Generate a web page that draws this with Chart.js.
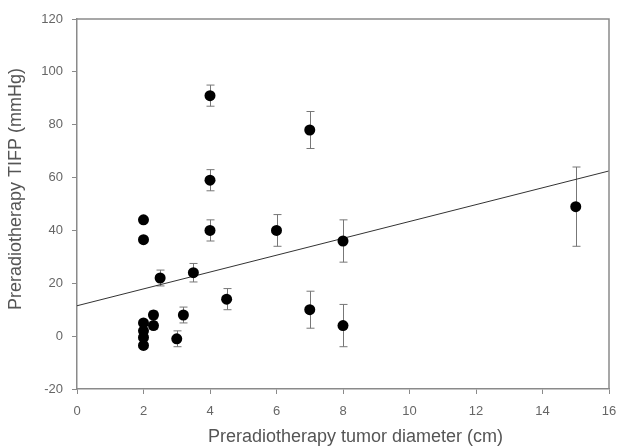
<!DOCTYPE html>
<html>
<head>
<meta charset="utf-8">
<script src="https://cdn.jsdelivr.net/npm/chart.js@4"></script>
<style>
  html, body { margin: 0; padding: 0; background: #fff; }
  #wrap { width: 617px; height: 448px; }
</style>
</head>
<body>
<div id="wrap"><canvas id="tifpChart" width="617" height="448"></canvas></div>
<script>
// tumour diameter (cm), TIFP (mmHg) and error half-widths
const diameters = [2, 2, 2, 2, 2, 2, 2.3, 2.3, 2.5, 3, 3.2, 3.5, 4, 4, 4, 4.5, 6, 7, 7, 8, 8, 15];
const tifp = [44, 36.5, 5, 2, -0.5, -3.5, 8, 4, 22, -1, 8, 24, 91, 59, 40, 14, 40, 78, 10, 36, 4, 49];
const errors = [0, 0, 0, 0, 0, 0, 1.5, 1.5, 3, 3, 3, 3.5, 4, 4, 4, 4, 6, 7, 7, 8, 8, 15];

// regression line end points
const fitX = [0, 16];
const fitY = [11.5, 62.5];

const xTicks = [0, 2, 4, 6, 8, 10, 12, 14, 16];
const yTicks = [-20, 0, 20, 40, 60, 80, 100, 120];

const axisGray = "#8a8a8a";
const labelGray = "#666";

const errorBars = {
    id: "errorBars",
    beforeDatasetsDraw(chart) {
        const ctx = chart.ctx;
        const xs = chart.scales.x, ys = chart.scales.y;
        ctx.save();
        ctx.strokeStyle = "#777";
        ctx.lineWidth = 1;
        diameters.forEach((d, i) => {
            if (!errors[i]) return;
            const px = Math.round(xs.getPixelForValue(d)) + 0.5;
            const top = ys.getPixelForValue(tifp[i] + errors[i]);
            const bot = ys.getPixelForValue(tifp[i] - errors[i]);
            ctx.beginPath();
            ctx.moveTo(px, top); ctx.lineTo(px, bot);
            ctx.moveTo(px - 4, top); ctx.lineTo(px + 4, top);
            ctx.moveTo(px - 4, bot); ctx.lineTo(px + 4, bot);
            ctx.stroke();
        });
        ctx.restore();
    }
};

const frame = {
    id: "frame",
    afterDraw(chart) {
        const a = chart.chartArea, ctx = chart.ctx;
        ctx.save();
        ctx.strokeStyle = axisGray;
        ctx.lineWidth = 1.5;
        ctx.beginPath();
        ctx.moveTo(a.left, a.top); ctx.lineTo(a.right, a.top); ctx.lineTo(a.right, a.bottom);
        ctx.stroke();
        ctx.restore();
    }
};

const ctx = document.getElementById("tifpChart").getContext("2d");
new Chart(ctx, {
    type: "scatter",
    data: {
        datasets: [{
            data: diameters.map((d, i) => ({ x: d, y: tifp[i] })),
            pointRadius: 5.5,
            pointBackgroundColor: "#000",
            pointBorderColor: "#000",
            pointBorderWidth: 0,
            showLine: false
        }, {
            type: "line",
            data: fitX.map((v, i) => ({ x: v, y: fitY[i] })),
            borderColor: "#333",
            borderWidth: 1,
            pointRadius: 0,
            fill: false
        }]
    },
    options: {
        responsive: false,
        animation: false,
        layout: { padding: { left: 0, right: 0, top: 19, bottom: 0 } },
        plugins: { legend: { display: false }, tooltip: { enabled: false } },
        scales: {
            x: {
                type: "linear",
                min: 0, max: 16,
                afterBuildTicks: s => { s.ticks = xTicks.map(v => ({ value: v })); },
                afterFit: s => { s.height = 59; s.paddingLeft = 0; s.paddingRight = 8; },
                grid: { drawOnChartArea: false, drawTicks: true, tickLength: 5, color: axisGray },
                border: { color: axisGray, width: 1.5 },
                ticks: { color: labelGray, font: { family: "Liberation Sans", size: 13 }, padding: 10 },
                // leading spaces nudge the title right like the original
                title: { display: true, text: "     Preradiotherapy tumor diameter (cm)", color: "#555",
                         font: { family: "Liberation Sans", size: 18 }, padding: { top: 0, bottom: 0 } }
            },
            y: {
                type: "linear",
                min: -20, max: 120,
                afterBuildTicks: s => { s.ticks = yTicks.map(v => ({ value: v })); },
                afterFit: s => { s.width = 77; },
                grid: { drawOnChartArea: false, drawTicks: true, tickLength: 5, color: axisGray },
                border: { color: axisGray, width: 1.5 },
                ticks: { color: labelGray, font: { family: "Liberation Sans", size: 13 }, padding: 9 },
                title: { display: true, text: "      Preradiotherapy TIFP (mmHg)", color: "#555",
                         font: { family: "Liberation Sans", size: 18 }, padding: { top: 5, bottom: 0 } }
            }
        }
    },
    plugins: [errorBars, frame]
});
</script>
</body>
</html>
